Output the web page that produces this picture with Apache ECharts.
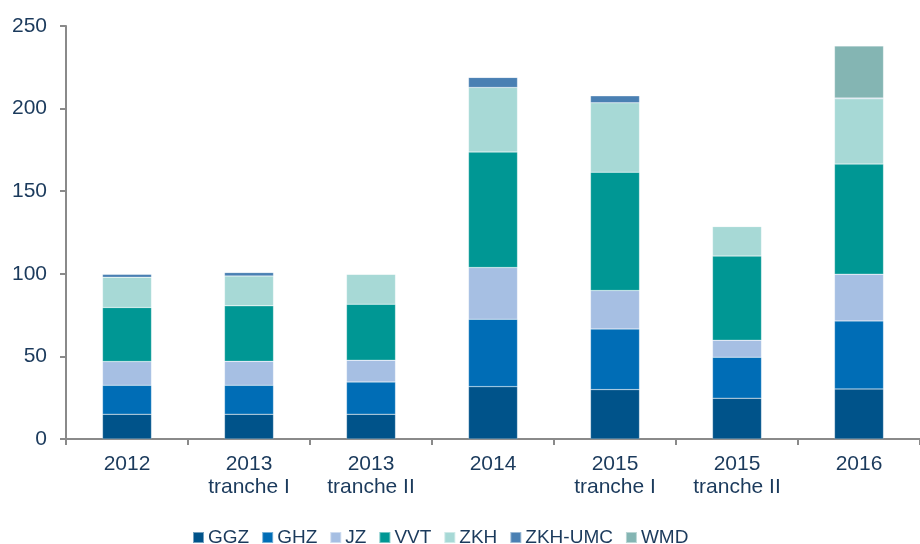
<!DOCTYPE html>
<html>
<head>
<meta charset="utf-8">
<style type="text/css">
html, body {margin: 0; padding: 0; background: #fff;}
#chart {width: 920px; height: 544px;}
</style>
</head>
<body>
<div id="chart"></div>
<script src="https://cdn.jsdelivr.net/npm/echarts@6/dist/echarts.min.js"></script>
<script>

let categories = ['2012', '2013\ntranche I', '2013\ntranche II', '2014', '2015\ntranche I', '2015\ntranche II', '2016'];

let ggz    = [15,   15,   15,   31.7, 29.9, 24.7, 30.3];
let ghz    = [17.5, 17.5, 19.5, 40.8, 36.7, 24.8, 41.2];
let jz     = [14.4, 14.5, 13.2, 31.3, 23.3, 10.3, 28.3];
let vvt    = [32.7, 33.6, 33.9, 69.9, 71.6, 50.9, 66.6];
let zkh    = [18.3, 18.1, 18.2, 39.1, 42,   17.9, 39.5];
let zkhUmc = [1.9,  2.1,  0,    6.1,  4.3,  0,    0.5];
let wmd    = [0,    0,    0,    0,    0,    0,    31.5];

let yTicks = [0, 50, 100, 150, 200, 250];

let seriesDefs = [
    {name: 'GGZ', data: ggz, color: '#00538a'},
    {name: 'GHZ', data: ghz, color: '#006db6'},
    {name: 'JZ', data: jz, color: '#a6bfe3'},
    {name: 'VVT', data: vvt, color: '#009794'},
    {name: 'ZKH', data: zkh, color: '#a7d9d6'},
    {name: 'ZKH-UMC', data: zkhUmc, color: '#4a80b3'},
    {name: 'WMD', data: wmd, color: '#84b5b3'}
];

let textColor = '#1b3a5c';
let axisColor = '#8a8a8a';
let font = 'Liberation Sans, Arial';

let chart = echarts.init(document.getElementById('chart'));

let option = {
    animation: false,
    grid: {
        left: 66,
        top: 26,
        width: 859,
        bottom: 105
    },
    legend: {
        left: 187,
        top: 523,
        itemWidth: 11,
        itemHeight: 11,
        itemGap: 12,
        icon: 'rect',
        textStyle: {
            color: textColor,
            fontSize: 19,
            fontFamily: font,
            padding: [0, 0, 0, -1]
        },
        data: seriesDefs.map(s => s.name)
    },
    xAxis: {
        type: 'category',
        data: categories,
        axisLine: {lineStyle: {color: axisColor, width: 2}},
        axisTick: {show: true, length: 6, lineStyle: {color: axisColor, width: 2}},
        axisLabel: {
            color: textColor,
            fontSize: 21,
            fontFamily: font,
            lineHeight: 23,
            margin: 14
        }
    },
    yAxis: {
        type: 'value',
        min: yTicks[0],
        max: yTicks[yTicks.length - 1],
        interval: 50,
        splitLine: {show: false},
        axisLine: {show: true, lineStyle: {color: axisColor, width: 2}},
        axisTick: {show: true, length: 6, lineStyle: {color: axisColor, width: 2}},
        axisLabel: {
            color: textColor,
            fontSize: 21,
            fontFamily: font,
            margin: 19
        }
    },
    series: seriesDefs.map(s => ({
        name: s.name,
        type: 'bar',
        stack: 'total',
        barWidth: 49,
        data: s.data,
        itemStyle: {
            color: s.color,
            borderColor: 'rgba(255,255,255,0.45)',
            borderWidth: 0.5
        }
    }))
};

chart.setOption(option);

</script>
</body>
</html>
